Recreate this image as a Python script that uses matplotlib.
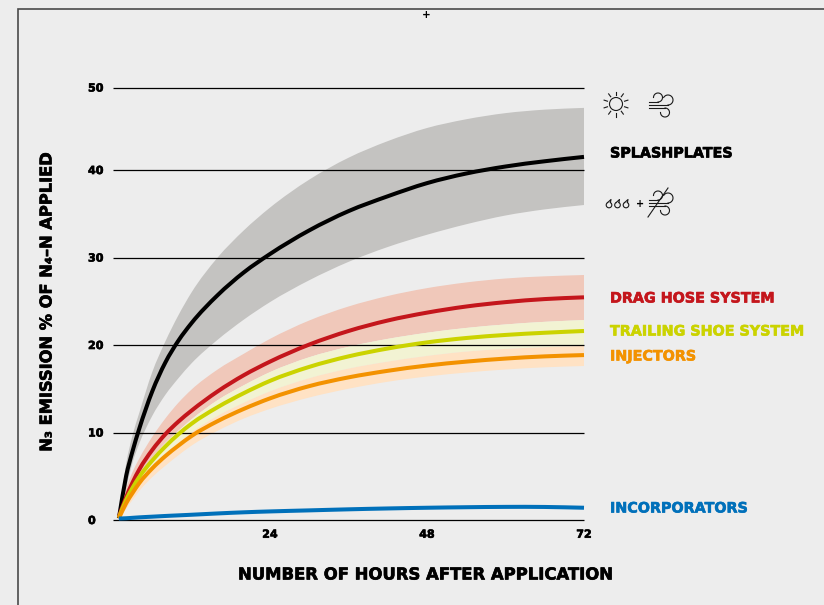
import numpy as np
import matplotlib
matplotlib.use("Agg")
import matplotlib.pyplot as plt
import matplotlib.patheffects as pe
from matplotlib.patches import Circle, PathPatch
from matplotlib.path import Path

FONT = ['DejaVu Sans']
plt.rcParams['font.family'] = FONT

hours = [0.9, 2, 3, 4, 6, 8, 10, 12, 16, 20, 24, 30, 36, 42, 48, 54, 60, 66, 72]

splash = [0.2, 5.0, 7.9, 10.4, 14.7, 18.0, 20.5, 22.5, 25.7, 28.3, 30.4, 33.1, 35.3, 37.0, 38.5, 39.6, 40.4, 41.0, 41.5]
splash_hi = [0.5, 6.4, 9.7, 12.2, 16.9, 20.4, 23.4, 26.0, 30.0, 33.1, 35.7, 38.9, 41.4, 43.3, 44.8, 45.8, 46.5, 46.9, 47.1]
splash_lo = [0.1, 3.6, 6.6, 8.7, 11.9, 14.3, 16.2, 17.9, 20.6, 22.9, 24.9, 27.4, 29.5, 31.2, 32.6, 33.8, 34.8, 35.5, 36.0]

drag = [0.4, 2.6, 4.3, 5.75, 8.0, 9.8, 11.25, 12.5, 14.7, 16.55, 18.1, 20.05, 21.6, 22.8, 23.7, 24.4, 24.9, 25.25, 25.45]
drag_hi = [0.6, 3.6, 5.5, 7.0, 9.5, 11.6, 13.4, 14.9, 17.2, 19.0, 20.7, 22.8, 24.4, 25.6, 26.5, 27.15, 27.6, 27.85, 28.0]
drag_lo = [0.3, 2.5, 3.9, 5.1, 7.1, 8.8, 10.2, 11.5, 13.7, 15.4, 16.9, 18.6, 19.8, 20.7, 21.4, 21.95, 22.35, 22.65, 22.85]

shoe = [0.3, 2.3, 3.7, 4.9, 6.8, 8.4, 9.8, 11.0, 12.9, 14.5, 15.9, 17.5, 18.7, 19.6, 20.3, 20.8, 21.15, 21.4, 21.6]
shoe_hi = drag_lo
shoe_lo = [0.2, 1.9, 3.1, 4.2, 6.0, 7.5, 8.8, 10.0, 11.9, 13.4, 14.7, 16.2, 17.3, 18.1, 18.75, 19.25, 19.55, 19.75, 19.9]

inj = [0.2, 1.9, 3.1, 4.2, 5.9, 7.3, 8.5, 9.6, 11.3, 12.7, 13.9, 15.3, 16.3, 17.05, 17.65, 18.1, 18.45, 18.7, 18.85]
inj_hi = shoe_lo
inj_lo = [0.1, 1.3, 2.3, 3.3, 4.9, 6.2, 7.4, 8.5, 10.2, 11.6, 12.7, 14.0, 15.0, 15.8, 16.4, 16.85, 17.2, 17.45, 17.6]

incorp = [0.17, 0.2, 0.25, 0.3, 0.38, 0.46, 0.53, 0.6, 0.75, 0.88, 0.98, 1.1, 1.22, 1.32, 1.4, 1.46, 1.5, 1.49, 1.4]

x_ticks = [24, 48, 72]
y_grid = [0, 10, 20, 30, 40, 49.43]
y_labels = ['0', '10', '20', '30', '40', '50']

BG = '#EDEDED'
W, H = 824, 605
fig = plt.figure(figsize=(8.24, 6.05), dpi=100, facecolor=BG)
ax = fig.add_axes([113/W, 1-520/H, (584-113)/W, (520-87.5)/H], facecolor='none')
ax.set_xlim(0, 72)
ax.set_ylim(0, 49.43)
for s in ax.spines.values():
    s.set_visible(False)


def smooth_segments(xs, ys):
    """Bezier segments of a smooth curve through the read points."""
    xs, ys = np.asarray(xs, float), np.asarray(ys, float)
    m = np.gradient(ys, xs)
    verts, codes = [], []
    for i in range(len(xs) - 1):
        d = (xs[i+1] - xs[i]) / 3
        verts += [(xs[i] + d, ys[i] + m[i]*d), (xs[i+1] - d, ys[i+1] - m[i+1]*d), (xs[i+1], ys[i+1])]
        codes += [Path.CURVE4] * 3
    return verts, codes


def curve_path(xs, ys):
    v, c = smooth_segments(xs, ys)
    return Path([(xs[0], ys[0])] + v, [Path.MOVETO] + c)


def band_path(xs, lo, hi):
    v1, c1 = smooth_segments(xs, hi)
    v2, c2 = smooth_segments(xs[::-1], lo[::-1])
    verts = [(xs[0], hi[0])] + v1 + [(xs[-1], lo[-1])] + v2 + [(xs[0], hi[0])]
    codes = [Path.MOVETO] + c1 + [Path.LINETO] + c2 + [Path.CLOSEPOLY]
    return Path(verts, codes)


bands = [(splash_lo, splash_hi, '#C4C3C1'), (drag_lo, drag_hi, '#F0C8BA'),
         (shoe_lo, shoe_hi, '#F2F3D3'), (inj_lo, inj_hi, '#FFE2C4')]
for lo, hi, c in bands:
    ax.add_patch(PathPatch(band_path(hours, lo, hi), fc=c, ec='none', lw=0, zorder=1))

ax.hlines(y_grid, 0, 72, color='black', lw=0.9, zorder=2, clip_on=False)

for vals, c in [(splash, '#000000'), (drag, '#C4161C'), (shoe, '#CBD300'),
                (inj, '#F39200'), (incorp, '#0070BA')]:
    ax.add_patch(PathPatch(curve_path(hours, vals), fc='none', ec=c, lw=2.9, zorder=3,
                           capstyle='butt', joinstyle='round', clip_on=False))


def heavy(color='#000000', w=0.45):
    return [pe.withStroke(linewidth=w, foreground=color)]


ax.set_xticks(x_ticks)
ax.set_xticklabels([str(t) for t in x_ticks], fontsize=8, fontweight='bold', path_effects=heavy())
ax.set_yticks(y_grid)
ax.set_yticklabels(y_labels, fontsize=8, fontweight='bold', ha='left', path_effects=heavy())
ax.tick_params(axis='x', length=0, pad=7)
ax.tick_params(axis='y', length=0, pad=18)

# overlay in pixel coordinates for labels, frame and icons
ov = fig.add_axes([0, 0, 1, 1], facecolor='none')
ov.set_xlim(0, W)
ov.set_ylim(H, 0)
ov.axis('off')
ov.plot([18, 18, W], [H, 9, 9], color='#4A4A4A', lw=1.2, solid_joinstyle='miter')
ov.text(426, 14.5, '+', fontsize=7.5, fontweight='bold', ha='center', va='center')

ov.text(426, 575, 'NUMBER OF HOURS AFTER APPLICATION', fontsize=11.85, fontweight='bold',
        ha='center', va='center', color='#000000', path_effects=heavy())
ov.text(47, 302, 'N₃ EMISSION % OF N₄–N APPLIED', fontsize=11.7, fontweight='bold',
        rotation=90, ha='center', va='center', color='#000000', path_effects=heavy())

names = ['SPLASHPLATES', 'DRAG HOSE SYSTEM', 'TRAILING SHOE SYSTEM', 'INJECTORS', 'INCORPORATORS']
name_y = [153.5, 298.5, 331.5, 356.5, 508.5]
name_c = ['#000000', '#C4161C', '#CBD300', '#F39200', '#0070BA']
for n, yy, c in zip(names, name_y, name_c):
    ov.text(610, yy, n, fontsize=10.3, fontweight='bold', color=c, ha='left', va='center',
            path_effects=heavy(c))

# sun icon
ic = dict(color='#1A1A1A', lw=0.8)
ov.add_patch(Circle((616, 104), 6.5, fill=False, ec='#1A1A1A', lw=0.8))
for a in np.arange(0, 360, 36):
    t = np.deg2rad(a + 18)
    ov.plot([616 + 9*np.cos(t), 616 + 12.5*np.cos(t)], [104 + 9*np.sin(t), 104 + 12.5*np.sin(t)], **ic)


def arc(cx, cy, r, a0, a1):
    t = np.deg2rad(np.linspace(a0, a1, 40))
    ov.plot(cx + r*np.cos(t), cy + r*np.sin(t), **ic)


def wind(x0, y0):
    ov.plot([x0, x0+9], [y0+9, y0+9], **ic)
    arc(x0+9, y0+4.5, 4.5, 90, -180)
    ov.plot([x0, x0+19], [y0+12, y0+12], **ic)
    arc(x0+19, y0+7, 5, 90, -150)
    ov.plot([x0, x0+16], [y0+15, y0+15], **ic)
    arc(x0+16, y0+19.5, 4.5, -90, 180)


wind(649, 93)
wind(649, 191)
ov.plot([648, 668], [217, 188], **ic)

# drops
for cx in (609, 617.5, 626):
    t = np.linspace(-60, 240, 30)
    ov.plot(cx + 2.8*np.cos(np.deg2rad(t)), 205 + 2.8*np.sin(np.deg2rad(t)), **ic)
    ov.plot([cx - 1.4, cx + 2, cx + 1.4], [202.6, 199.5, 202.6], **ic)
ov.text(640, 204, '+', fontsize=7, fontweight='bold', ha='center', va='center')

fig.savefig('out.png', dpi=100, facecolor=BG)
